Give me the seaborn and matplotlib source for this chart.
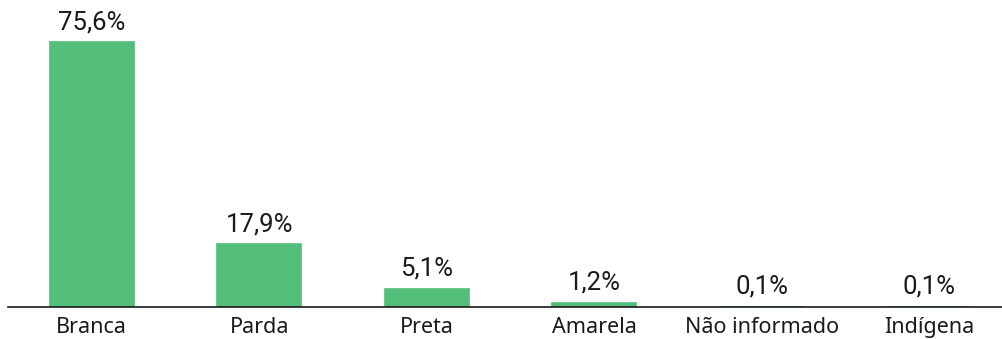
import matplotlib
matplotlib.use("Agg")
import matplotlib.pyplot as plt
import seaborn as sns
import pandas as pd

categories = ["Branca", "Parda", "Preta", "Amarela", "Não informado", "Indígena"]
values = [75.6, 17.9, 5.1, 1.2, 0.1, 0.1]
value_labels = ["75,6%", "17,9%", "5,1%", "1,2%", "0,1%", "0,1%"]

df = pd.DataFrame({"cor": categories, "pct": values})

sns.set_theme(style="white")
plt.rcParams["font.family"] = ["Noto Sans", "DejaVu Sans"]

fig = plt.figure(figsize=(10.03, 3.39), dpi=100)
ax = fig.add_axes([0.008, 0.0944, 0.992, 0.9056])

sns.barplot(data=df, x="cor", y="pct", color="#52BE7A", saturation=1,
            width=0.5, ax=ax, edgecolor="#52BE7A", linewidth=1.2)

for patch, lab in zip(ax.patches, value_labels):
    ax.annotate(lab, (patch.get_x() + patch.get_width() / 2, patch.get_height()),
                xytext=(0, 6), textcoords="offset points",
                ha="center", va="bottom", fontsize=18.5, color="#1a1a1a",
                family=["Roboto", "DejaVu Sans"])

ax.set_xlim(-0.5, 5.44)
ax.set_ylim(0, 87.7)
ax.set_xlabel("")
ax.set_ylabel("")
ax.set_yticks([])
for side in ["top", "right", "left"]:
    ax.spines[side].set_visible(False)
ax.spines["bottom"].set_color("#1a1a1a")
ax.spines["bottom"].set_linewidth(1.2)
ax.spines["bottom"].set_zorder(3)
ax.tick_params(axis="x", length=0, pad=7, labelsize=15.5, labelcolor="#1a1a1a")

fig.savefig("out.png", dpi=100)
